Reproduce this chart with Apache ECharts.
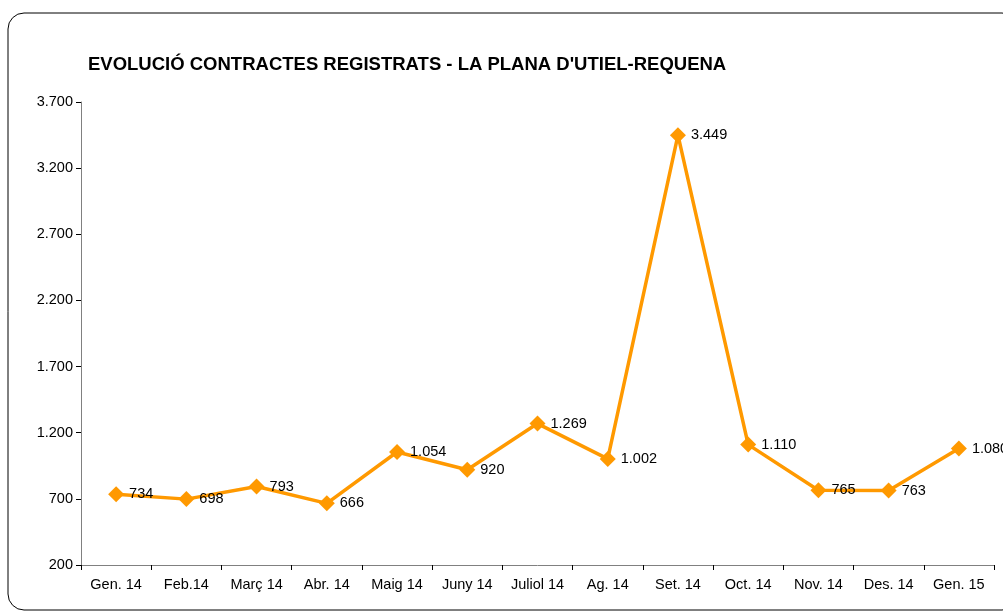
<!DOCTYPE html>
<html>
<head>
<meta charset="utf-8">
<script src="https://cdn.jsdelivr.net/npm/echarts@6/dist/echarts.min.js"></script>
<style>
  html, body { margin: 0; padding: 0; background: #fff; }
  #chart { width: 1003px; height: 612px; }
</style>
</head>
<body>
<div id="chart"></div>
<script>
  const months = ['Gen. 14', 'Feb.14', 'Març 14', 'Abr. 14', 'Maig 14', 'Juny 14', 'Juliol 14',
    'Ag. 14', 'Set. 14', 'Oct. 14', 'Nov. 14', 'Des. 14', 'Gen. 15'];
  const contracts = [734, 698, 793, 666, 1054, 920, 1269, 1002, 3449, 1110, 765, 763, 1080];
  const yTicks = [200, 3700, 500];

  // 1234 -> "1.234"
  function fmt(v) {
    return String(v).replace(/\B(?=(\d{3})+(?!\d))/g, '.');
  }

  const chart = echarts.init(document.getElementById('chart'));

  chart.setOption({
    animation: false,
    textStyle: { fontFamily: 'Liberation Sans, Arial, sans-serif' },
    graphic: [{
      type: 'rect',
      shape: { x: 8, y: 13, width: 1010, height: 597, r: 16 },
      style: { fill: 'none', stroke: '#000', lineWidth: 1 },
      z: -1
    }],
    title: {
      text: 'EVOLUCIÓ CONTRACTES REGISTRATS - LA PLANA D\'UTIEL-REQUENA',
      left: 83,
      top: 50,
      textStyle: { fontSize: 18.5, fontWeight: 'bold', color: '#000' }
    },
    grid: { left: 81, right: 9, top: 102, bottom: 47 },
    xAxis: {
      type: 'category',
      data: months,
      boundaryGap: true,
      axisLine: { lineStyle: { color: '#808080', width: 1 } },
      axisTick: { show: true, length: 5, lineStyle: { color: '#000' } },
      axisLabel: { color: '#000', fontSize: 14.5, margin: 12, interval: 0 }
    },
    yAxis: {
      type: 'value',
      min: yTicks[0],
      max: yTicks[1],
      interval: yTicks[2],
      axisLine: { show: true, lineStyle: { color: '#808080', width: 1 } },
      axisTick: { show: true, length: 5, lineStyle: { color: '#000' } },
      splitLine: { show: false },
      axisLabel: { color: '#000', fontSize: 14.5, margin: 8, formatter: fmt }
    },
    series: [{
      type: 'line',
      data: contracts,
      symbol: 'diamond',
      symbolSize: 16,
      lineStyle: { color: '#FF9900', width: 3.5 },
      itemStyle: { color: '#FF9900' },
      label: {
        show: true,
        position: 'right',
        distance: 5,
        color: '#000',
        fontSize: 14.5,
        formatter: p => fmt(p.value)
      }
    }]
  });
</script>
</body>
</html>
